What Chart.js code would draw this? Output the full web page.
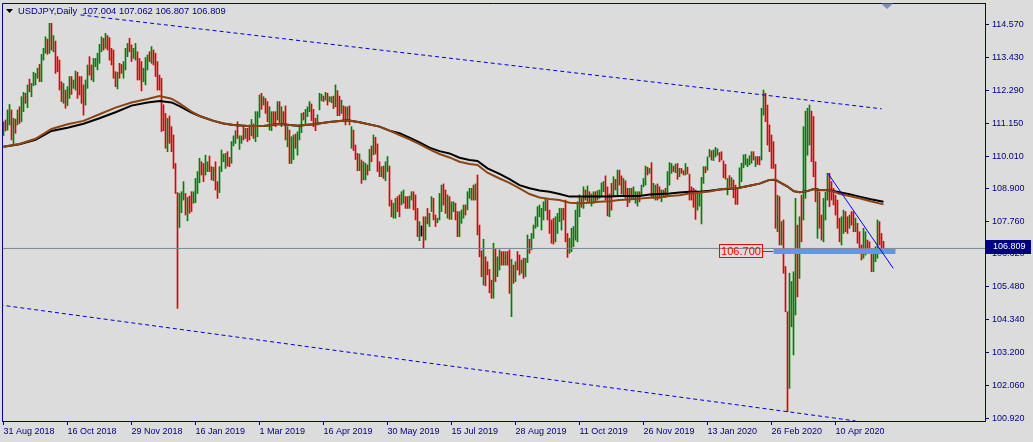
<!DOCTYPE html>
<html><head><meta charset="utf-8">
<script src="https://cdn.jsdelivr.net/npm/chart.js@4.4.0/dist/chart.umd.min.js"></script>
<style>html,body{margin:0;padding:0;background:#dcdcdc;overflow:hidden}canvas{display:block}</style>
</head><body>
<canvas id="c" width="1033" height="442"></canvas>
<script>
const symbolName = "USDJPY";
const timeframe = "Daily";
const lastBarOHLC = [107.004, 107.062, 106.807, 106.809];
const dateLabels = ["31 Aug 2018","16 Oct 2018","29 Nov 2018","16 Jan 2019","1 Mar 2019","16 Apr 2019","30 May 2019","15 Jul 2019","28 Aug 2019","11 Oct 2019","26 Nov 2019","13 Jan 2020","26 Feb 2020","10 Apr 2020"];
const dateTickIdx = [0,32,64,96,128,160,192,224,256,288,320,352,384,416];
const yTicks = [114.57,113.43,112.29,111.15,110.01,108.90,107.76,106.62,105.48,104.34,103.20,102.06,100.92];
const yTickLabels = ["114.570","113.430","112.290","111.150","110.010","108.900","107.760","106.620","105.480","104.340","103.200","102.060","100.920"];

const highs = [
111.21,111.27,111.62,111.81,111.62,111.33,111.30,111.62,111.73,112.08,
112.23,112.20,112.49,112.69,112.54,112.93,112.89,113.07,113.20,113.55,
113.76,114.16,114.08,114.63,114.63,114.20,114.01,113.47,113.35,112.60,
112.54,112.31,112.43,112.78,112.78,112.66,112.97,112.93,112.78,112.78,
112.49,112.66,113.18,113.47,113.18,113.41,113.41,113.59,113.90,114.16,
114.11,114.28,114.20,114.13,113.76,113.70,112.95,112.93,113.24,113.20,
113.30,113.76,113.93,114.11,113.88,113.76,113.93,113.64,113.41,113.30,
113.07,113.44,113.53,113.64,113.82,113.70,113.59,113.30,112.83,112.72,
111.80,111.50,111.33,111.41,111.04,110.75,109.76,108.75,108.72,108.78,
109.13,108.72,108.58,108.63,108.78,108.78,109.24,109.48,109.94,109.82,
109.76,110.05,109.82,110.02,109.65,109.63,109.82,109.13,109.65,110.23,
110.09,110.11,110.17,109.97,110.52,110.72,110.90,111.21,110.72,110.72,
111.04,110.98,110.98,111.10,111.29,111.13,111.56,111.56,112.14,112.20,
112.08,112.02,111.91,111.73,111.56,111.56,111.56,111.91,111.91,111.73,
111.56,111.76,111.04,110.92,110.69,110.75,110.78,110.86,111.04,111.50,
111.53,111.64,111.73,111.91,111.83,111.64,111.33,111.45,112.20,112.17,
112.10,112.23,112.20,112.08,112.08,112.10,112.49,112.29,112.10,111.96,
111.76,111.73,111.73,111.76,111.04,110.92,110.40,110.11,110.09,109.88,
109.82,109.77,109.71,110.25,110.37,110.75,110.67,110.44,109.82,109.65,
109.67,109.82,110.00,109.67,108.49,108.38,108.55,108.61,108.67,108.78,
108.84,108.61,108.61,108.63,108.78,108.78,108.67,108.20,107.74,107.59,
107.91,107.91,108.20,108.03,108.61,108.55,107.97,107.86,108.72,109.01,
109.05,108.84,108.67,108.61,108.43,108.43,108.38,108.09,108.09,108.15,
108.32,108.32,108.78,108.90,108.90,109.01,109.05,109.36,107.62,106.73,
107.13,106.52,106.35,106.08,105.71,106.99,106.81,106.52,106.76,106.70,
106.70,106.70,106.70,106.76,106.43,106.23,106.35,106.70,106.58,106.41,
106.47,106.47,107.28,107.13,107.33,107.62,107.91,108.26,108.32,108.20,
108.43,108.55,108.49,108.14,107.80,107.85,107.91,108.03,108.20,108.20,
108.20,108.49,107.33,107.16,107.51,107.57,108.14,108.43,108.67,108.55,
108.95,108.84,108.98,108.78,108.70,108.78,108.78,108.82,108.84,109.09,
109.13,109.33,108.95,108.70,109.07,109.30,109.21,109.53,109.53,109.33,
109.24,109.16,108.90,108.90,108.90,108.95,108.78,108.78,108.78,109.01,
109.24,109.67,109.63,109.59,109.79,109.07,109.01,109.05,108.95,108.84,
108.84,108.90,109.48,109.79,109.76,109.67,109.74,109.76,109.59,109.59,
109.51,109.76,109.63,109.39,108.95,108.90,108.84,108.78,108.72,109.28,
109.65,109.65,109.99,110.25,110.20,110.23,110.32,110.27,110.14,110.17,
109.85,109.73,109.24,109.34,109.27,109.19,109.01,108.90,109.61,109.77,
110.06,110.08,109.92,110.03,110.17,110.17,110.00,110.00,110.00,111.68,
112.31,112.20,111.79,111.10,110.75,110.52,109.73,108.66,108.61,107.74,
107.80,106.18,104.61,105.95,105.66,106.00,108.55,107.62,107.91,108.66,
111.04,111.58,111.68,111.79,111.58,111.39,109.82,108.90,108.78,107.97,
108.55,108.76,109.42,109.42,109.13,108.90,108.66,108.49,107.86,107.91,
108.14,108.09,107.91,107.97,108.09,108.09,107.86,107.68,107.39,106.93,
107.51,107.39,107.10,107.04,106.81,106.70,106.87,107.80,107.74,107.33,107.06
];
const lows = [
110.73,110.89,110.92,111.10,110.58,110.43,110.81,111.10,111.15,111.21,
111.56,111.85,111.70,112.25,112.08,112.46,112.49,112.72,112.60,112.60,
113.35,113.59,113.55,113.59,113.70,113.64,112.89,112.95,112.31,111.91,
111.85,111.68,111.77,112.02,112.16,112.37,112.31,112.02,112.14,111.85,
111.44,111.79,112.37,112.83,112.66,112.60,113.12,113.01,113.24,113.64,
113.70,113.76,113.70,113.35,113.18,112.72,112.43,112.35,112.72,112.89,
112.72,113.01,113.47,113.64,113.30,113.41,113.35,112.66,112.66,112.28,
112.60,112.49,113.01,113.30,113.24,113.18,112.78,112.31,112.31,110.87,
110.90,110.29,110.17,110.46,110.17,109.59,108.72,104.73,107.54,108.05,
108.49,107.97,107.77,108.03,108.09,108.38,108.40,108.72,109.09,109.36,
109.13,109.36,109.48,109.48,109.19,109.16,108.84,108.55,108.75,109.48,
109.82,109.59,109.67,109.65,109.77,110.37,110.46,110.63,110.25,110.46,
110.58,110.63,110.52,110.58,110.72,110.63,110.52,110.69,111.36,111.64,
111.79,111.50,111.21,110.92,110.90,111.10,111.04,111.27,111.15,111.04,
111.15,110.58,110.34,109.76,109.76,109.90,110.29,110.05,110.58,110.83,
111.27,111.10,111.39,111.56,111.25,111.04,110.90,111.10,111.62,111.94,
111.91,111.96,111.79,111.91,111.87,111.67,111.73,111.42,111.42,111.50,
111.27,111.10,111.27,111.10,110.29,110.21,109.90,109.51,109.51,109.07,
109.19,109.19,109.36,109.51,109.82,110.06,110.09,109.48,109.30,109.30,
109.24,109.16,109.48,108.28,107.91,107.86,107.86,108.09,107.91,108.32,
108.38,108.20,108.20,108.20,108.49,108.15,107.80,107.22,107.08,107.24,
106.81,107.10,107.66,107.57,108.09,107.80,107.57,107.70,107.80,108.09,
108.32,108.03,107.86,107.82,107.82,108.09,107.80,107.22,107.22,107.68,
107.86,107.97,108.15,108.55,108.49,108.49,108.49,107.28,106.52,105.83,
105.54,105.51,105.89,105.27,105.08,105.08,105.66,105.83,106.06,106.23,
106.23,106.23,106.23,105.25,104.44,105.60,105.66,106.06,105.89,105.95,
105.77,105.83,106.32,106.64,106.76,107.16,107.51,107.57,107.91,107.45,
107.80,108.12,107.80,107.33,106.99,106.96,107.04,107.33,107.74,107.45,
107.80,107.04,106.50,106.64,106.70,106.87,107.10,107.04,107.91,108.24,
108.20,108.49,108.40,108.43,108.28,108.38,108.43,108.49,108.55,108.61,
108.78,108.49,107.94,107.91,108.14,108.61,108.84,108.67,109.01,108.70,
108.67,108.55,108.26,108.40,108.55,108.51,108.38,108.28,108.43,108.67,
108.95,109.01,109.36,109.42,108.61,108.55,108.49,108.49,108.55,108.43,
108.61,108.58,108.61,109.01,109.42,109.48,109.44,109.21,109.30,109.42,
109.36,109.36,109.40,108.49,108.49,108.24,107.82,108.14,108.28,107.66,
109.07,109.44,109.53,109.99,109.88,109.86,109.99,110.05,109.82,109.88,
109.27,109.22,108.67,108.96,108.96,108.57,108.34,108.34,108.90,109.13,
109.61,109.71,109.65,109.71,109.77,109.88,109.65,109.73,109.71,109.88,
111.44,111.21,110.40,110.17,109.59,109.59,107.51,107.39,106.93,106.93,
105.95,104.61,101.14,101.95,104.09,103.11,104.50,105.13,105.77,107.04,
107.80,108.55,110.05,110.40,109.82,109.30,108.43,107.16,107.51,107.10,
107.04,107.80,108.49,108.26,108.49,108.32,107.97,107.51,107.04,106.93,
107.33,107.39,107.33,107.51,107.62,107.39,107.39,106.99,106.70,106.41,
106.47,106.58,106.64,106.64,106.00,106.00,106.35,106.47,106.93,106.81,106.81
];
// 1 = up bar, -1 = down bar, 0 = unchanged
const dirs = [
1,-1,1,1,-1,1,-1,1,-1,1, 1,-1,1,-1,1,1,1,1,-1,1, 1,1,-1,1,-1,1,-1,-1,-1,-1, 1,-1,1,1,-1,1,1,-1,-1,-1,
-1,1,1,-1,-1,1,1,1,1,1, -1,1,-1,-1,-1,-1,-1,1,-1,-1, 1,1,1,-1,-1,1,1,-1,-1,-1, 1,1,1,-1,1,-1,-1,-1,-1,-1,
-1,-1,1,-1,-1,-1,-1,-1,1,1, 1,-1,1,-1,-1,1,1,1,1,-1, -1,1,1,-1,-1,1,-1,-1,1,1, 1,1,-1,-1,1,1,1,-1,1,1,
-1,1,-1,-1,1,-1,1,1,1,-1, 1,-1,-1,1,1,-1,-1,1,-1,1, -1,-1,1,-1,1,1,-1,1,1,1, -1,1,1,1,-1,-1,-1,1,1,1,
-1,1,-1,1,1,-1,1,-1,-1,1, -1,-1,1,-1,1,-1,-1,-1,1,-1, 1,1,-1,1,-1,1,-1,-1,-1,1, -1,1,1,-1,-1,1,1,-1,-1,1,
1,-1,-1,1,1,-1,-1,-1,1,0, -1,1,-1,1,1,-1,-1,1,1,1, -1,-1,1,-1,1,1,-1,-1,1,1, 1,-1,1,1,1,-1,1,-1,-1,-1,
1,-1,-1,-1,-1,1,-1,1,1,-1, -1,1,-1,-1,1,-1,1,-1,-1,1, -1,1,1,-1,1,1,1,1,1,1, 1,1,-1,-1,-1,-1,1,1,1,1,
-1,-1,-1,1,1,1,1,1,1,-1, 1,-1,1,-1,1,1,-1,1,1,1, 1,-1,-1,1,-1,1,-1,1,-1,-1, 1,-1,-1,1,-1,1,1,1,-1,1,
1,1,-1,1,-1,1,1,-1,-1,1, 1,-1,1,1,1,-1,1,-1,1,-1, -1,1,-1,-1,-1,-1,-1,1,1,1, 1,-1,1,1,-1,1,1,1,-1,-1,
-1,-1,1,-1,1,-1,-1,-1,1,1, 1,1,1,1,1,-1,1,-1,-1,1, 1,-1,-1,-1,-1,-1,-1,1,-1,1, -1,-1,-1,1,1,1,1,-1,1,-1,
1,1,1,1,-1,-1,-1,1,-1,-1, 1,1,1,-1,-1,-1,-1,-1,-1,1, 1,-1,-1,1,-1,-1,1,-1,-1,-1, 1,1,-1,-1,-1,1,1,1,-1,-1,-1
];

const maIdx = [0,8,16,24,32,40,48,56,64,72,78,84,88,94,98,105,110,115,122,130,138,147,155,163,172,178,188,193,198,203,208,213,218,223,228,233,237,242,248,253,258,263,268,273,278,283,288,293,298,303,308,313,318,323,328,333,338,343,348,353,358,363,368,373,378,383,386,388,392,395,398,402,405,408,413,418,423,428,433,440];
const maBlack = [110.34,110.43,110.58,110.89,111.00,111.14,111.33,111.54,111.77,111.88,111.93,111.88,111.75,111.53,111.41,111.24,111.15,111.10,111.06,111.06,111.13,111.07,111.12,111.20,111.26,111.19,111.04,110.90,110.81,110.66,110.49,110.31,110.19,110.11,109.96,109.88,109.85,109.59,109.40,109.22,109.01,108.90,108.82,108.78,108.70,108.61,108.61,108.61,108.61,108.61,108.63,108.63,108.63,108.68,108.70,108.72,108.75,108.78,108.78,108.81,108.86,108.88,108.92,108.99,109.06,109.19,109.19,109.11,108.96,108.80,108.76,108.80,108.87,108.84,108.83,108.76,108.69,108.61,108.53,108.43];
const maBrown = [110.34,110.44,110.62,110.96,111.12,111.24,111.47,111.70,111.88,112.00,112.10,112.01,111.85,111.56,111.41,111.24,111.15,111.10,111.06,111.06,111.13,111.07,111.12,111.20,111.26,111.19,111.04,110.90,110.75,110.60,110.43,110.25,110.09,109.97,109.82,109.74,109.71,109.44,109.24,109.09,108.90,108.70,108.58,108.53,108.49,108.40,108.38,108.40,108.43,108.45,108.49,108.51,108.54,108.57,108.58,108.63,108.66,108.72,108.75,108.79,108.86,108.90,108.92,108.99,109.06,109.19,109.20,109.11,108.96,108.80,108.76,108.80,108.87,108.84,108.83,108.71,108.63,108.55,108.46,108.34];

const upperChannelIdx = [38.5, 439];
const upperChannelPrice = [114.92, 111.66];
const lowerChannelIdx = [-2, 426];
const lowerChannelPrice = [104.85, 100.82];
const trendIdx = [412.2, 444.85];
const trendPrice = [109.42, 106.12];
const levelIdx = [385, 446];
const levelPrice = 106.70;
const bidIdx = [-5, 500];
const bidPrice = lastBarOHLC[3];

const FONT = '"Liberation Sans", Arial, sans-serif';
const NAVY = '#000080';
const pts = (xs, ys) => xs.map((x, i) => ({x, y: Array.isArray(ys) ? ys[i] : ys}));

const bgPlugin = {
  id: 'bg',
  beforeDraw(chart) {
    const c = chart.ctx; c.save(); c.fillStyle = '#dcdcdc'; c.fillRect(0, 0, chart.width, chart.height); c.restore();
  }
};
const overlay = {
  id: 'overlay',
  afterDraw(chart) {
    const c = chart.ctx, a = chart.chartArea, ys = chart.scales.y;
    c.save();
    c.strokeStyle = NAVY; c.lineWidth = 1;
    c.beginPath();
    c.moveTo(a.left + 0.5, a.bottom); c.lineTo(a.left + 0.5, a.top + 0.5); c.lineTo(a.right, a.top + 0.5);
    c.stroke();
    // title
    c.fillStyle = '#000000';
    c.beginPath(); c.moveTo(6, 9); c.lineTo(13, 9); c.lineTo(9.5, 13); c.closePath(); c.fill();
    c.font = '9.4px ' + FONT; c.fillStyle = NAVY; c.textBaseline = 'middle'; c.textAlign = 'left';
    c.fillText(symbolName + ',' + timeframe + '  ' + lastBarOHLC.map(v => v.toFixed(3)).join(' '), 18, 11);
    // chart shift marker
    c.fillStyle = '#7f8db0';
    c.beginPath(); c.moveTo(881, a.top + 0.5); c.lineTo(893, a.top + 0.5); c.lineTo(887, a.top + 6); c.closePath(); c.fill();
    // level label
    const yl = Math.round(ys.getPixelForValue(levelPrice)) - 1;
    c.strokeStyle = '#ff0000'; c.lineWidth = 1;
    c.strokeRect(719.5, yl - 6.5, 43, 13);
    c.beginPath(); c.moveTo(763, yl + 0.5); c.lineTo(773, yl + 0.5); c.stroke();
    c.font = '11px ' + FONT; c.fillStyle = '#ff0000'; c.textAlign = 'center';
    c.fillText(levelPrice.toFixed(3), 741, yl + 0.5);
    // bid price box
    const yb = Math.round(ys.getPixelForValue(bidPrice)) - 1;
    c.fillStyle = NAVY; c.fillRect(986, yb - 7, 45, 14);
    c.font = '9px ' + FONT; c.fillStyle = '#ffffff'; c.textAlign = 'left';
    c.fillText(bidPrice.toFixed(3), 993, yb);
    c.restore();
  }
};

const barColors = dirs.map(d => d > 0 ? '#008000' : (d < 0 ? '#e00000' : '#000000'));

new Chart(document.getElementById('c'), {
  type: 'bar',
  data: {
    datasets: [
      {type: 'line', data: pts(trendIdx, trendPrice), borderColor: '#0000ff', borderWidth: 1, pointRadius: 0, order: 1},
      {type: 'line', data: pts(upperChannelIdx, upperChannelPrice), borderColor: '#0000d8', borderWidth: 1, borderDash: [4, 3], pointRadius: 0, order: 2},
      {type: 'line', data: pts(lowerChannelIdx, lowerChannelPrice), borderColor: '#0000d8', borderWidth: 1, borderDash: [4, 3], pointRadius: 0, order: 2},
      {type: 'line', data: pts(levelIdx, levelPrice), borderColor: '#6495ed', borderWidth: 5, pointRadius: 0, order: 3},
      {type: 'line', data: pts(maIdx, maBrown), borderColor: '#8b4513', borderWidth: 2, pointRadius: 0, tension: 0, order: 4},
      {type: 'line', data: pts(maIdx, maBlack), borderColor: '#000000', borderWidth: 2, pointRadius: 0, tension: 0, order: 5},
      {type: 'line', data: pts(bidIdx, bidPrice), borderColor: '#7d8593', borderWidth: 1, pointRadius: 0, order: 8},
      {type: 'bar', data: highs.map((h, i) => ({x: i, y: [lows[i], h]})), backgroundColor: barColors, borderWidth: 0, barThickness: 1, order: 10}
    ]
  },
  options: {
    responsive: false, animation: false, devicePixelRatio: 1,
    layout: {padding: {left: 2, top: 3, right: 0, bottom: 0}},
    plugins: {legend: {display: false}, tooltip: {enabled: false}},
    scales: {
      x: {
        type: 'linear', min: -0.75, max: 490.75, offset: false,
        afterFit: s => { s.height = 21; s.paddingLeft = 0; s.paddingRight = 0; },
        afterBuildTicks: s => { s.ticks = dateTickIdx.map(v => ({value: v})); },
        ticks: {callback: (v, i) => dateLabels[i], align: 'start', color: NAVY, font: {family: FONT, size: 9}, padding: 1, autoSkip: false, maxRotation: 0, minRotation: 0},
        grid: {drawOnChartArea: false, drawTicks: true, tickLength: 4, tickColor: NAVY, offset: false},
        border: {display: true, color: NAVY, width: 1}
      },
      y: {
        position: 'right', min: 100.817, max: 115.334, beginAtZero: false,
        afterFit: s => { s.width = 48; s.paddingTop = 0; s.paddingBottom = 0; },
        afterBuildTicks: s => { s.ticks = yTicks.map(v => ({value: v})); },
        ticks: {callback: (v, i) => yTickLabels[i], color: NAVY, font: {family: FONT, size: 9}, padding: 3, autoSkip: false},
        grid: {drawOnChartArea: false, drawTicks: true, tickLength: 4, tickColor: NAVY},
        border: {display: true, color: NAVY, width: 1}
      }
    }
  },
  plugins: [bgPlugin, overlay]
});
</script>
</body></html>
